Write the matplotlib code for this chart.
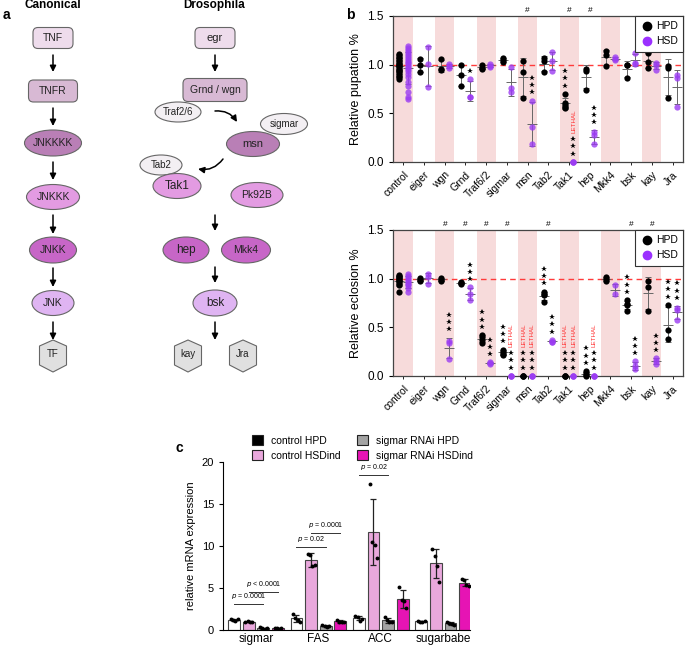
import numpy as np
import matplotlib.pyplot as plt
from matplotlib.patches import Ellipse, FancyBboxPatch, Polygon, Patch
from matplotlib.lines import Line2D

plt.rcParams['font.family'] = ['Liberation Sans', 'DejaVu Sans']

# ---------------- data: panel b ----------------
genes = ['control', 'eiger', 'wgn', 'Grnd', 'Traf6/2', 'sigmar', 'msn',
         'Tab2', 'Tak1', 'hep', 'Mkk4', 'bsk', 'kay', 'Jra']

pup_hpd = [[1.11, 1.10, 1.08, 1.07, 1.05, 1.04, 1.02, 1.01, 1.00, 0.99, 0.98,
            0.96, 0.95, 0.93, 0.92, 0.90, 0.88, 0.87, 0.85],
           [1.06, 1.00, 0.92], [1.06, 0.96, 0.95], [1.00, 0.89, 0.78],
           [1.00, 0.97, 0.96], [1.07, 1.05, 1.03], [1.04, 0.92, 0.66],
           [1.07, 1.04, 0.92], [0.70, 0.61, 0.59, 0.57, 0.55], [0.96, 0.93, 0.74],
           [1.14, 1.10, 0.99], [1.00, 1.00, 0.86], [1.12, 1.03, 0.97],
           [0.99, 0.97, 0.66]]
pup_hsd = [[1.19, 1.17, 1.15, 1.13, 1.11, 1.09, 1.07, 1.05, 1.03, 1.02, 1.00,
            0.98, 0.96, 0.93, 0.90, 0.87, 0.82, 0.78, 0.72, 0.67, 0.65],
           [1.18, 1.01, 0.77], [1.01, 0.99, 0.97], [0.85, 0.67, 0.67],
           [1.01, 0.99, 0.98], [0.98, 0.76, 0.72], [0.63, 0.36, 0.18],
           [1.13, 1.04, 0.94], [0.0, 0.0, 0.0], [0.31, 0.28, 0.18],
           [1.08, 1.06, 1.05], [1.12, 1.02, 1.01], [1.02, 1.00, 0.95],
           [0.89, 0.86, 0.57]]
pup_stars_hpd = [0, 0, 0, 0, 0, 0, 0, 0, 3, 0, 0, 0, 0, 0]
pup_stars_hsd = [0, 0, 0, 1, 0, 0, 3, 0, 3, 3, 0, 0, 0, 0]
pup_lethal_hpd = []
pup_lethal_hsd = ['Tak1']
pup_hash = ['msn', 'Tak1', 'hep']

ecl_hpd = [[1.04, 1.03, 1.02, 1.01, 1.00, 0.99, 0.98, 0.97, 0.95, 0.93, 0.86],
           [1.01, 0.99, 0.98], [1.01, 0.99, 0.98], [0.97, 0.96, 0.95],
           [0.42, 0.40, 0.37, 0.34], [0.27, 0.25, 0.23, 0.22], [0.0, 0.0, 0.0],
           [0.86, 0.84, 0.83, 0.76], [0.0, 0.0, 0.0], [0.05, 0.03, 0.01, 0.0],
           [1.02, 1.00, 0.98], [0.78, 0.74, 0.73, 0.67], [0.98, 0.91, 0.67],
           [0.73, 0.47, 0.38]]
ecl_hsd = [[1.05, 1.03, 1.01, 0.99, 0.97, 0.95, 0.93, 0.90, 0.86],
           [1.05, 1.02, 0.95], [0.36, 0.34, 0.17], [0.91, 0.84, 0.78],
           [0.14, 0.13, 0.12], [0.0, 0.0, 0.0], [0.0, 0.0, 0.0],
           [0.37, 0.35, 0.35], [0.0, 0.0, 0.0], [0.0, 0.0, 0.0],
           [0.93, 0.84], [0.15, 0.10, 0.07], [0.18, 0.15, 0.12],
           [0.70, 0.68, 0.58]]
ecl_stars_hpd = [0, 0, 0, 0, 3, 3, 3, 3, 3, 3, 0, 3, 0, 3]
ecl_stars_hsd = [0, 0, 3, 3, 3, 3, 3, 3, 3, 3, 0, 3, 3, 3]
ecl_lethal_hpd = ['msn', 'Tak1']
ecl_lethal_hsd = ['sigmar', 'msn', 'Tak1', 'hep']
ecl_hash = ['wgn', 'Grnd', 'Traf6/2', 'sigmar', 'Tab2', 'bsk', 'kay']

# ---------------- data: panel c ----------------
c_genes = ['sigmar', 'FAS', 'ACC', 'sugarbabe']
c_names = ['control HPD', 'control HSDind', 'sigmar RNAi HPD', 'sigmar RNAi HSDind']
c_ctrl_hpd = [[1.3, 1.2, 1.1, 1.35], [1.9, 1.4, 1.2, 1.0], [1.7, 1.5, 1.1, 1.3], [1.1, 1.0, 0.95, 1.05]]
c_ctrl_hsd = [[1.0, 1.05, 0.95, 1.0], [9.1, 8.9, 7.6, 7.7], [17.4, 10.5, 10.1, 8.6], [9.6, 8.8, 7.6, 5.7]]
c_rnai_hpd = [[0.3, 0.2, 0.15, 0.25], [0.6, 0.5, 0.4, 0.45], [1.6, 1.2, 1.0, 0.9], [1.0, 0.8, 0.7, 0.6]]
c_rnai_hsd = [[0.2, 0.25, 0.15, 0.2], [1.2, 1.0, 0.9, 0.95], [5.1, 3.6, 3.5, 2.6], [6.1, 6.0, 5.3, 5.2]]
c_pvals = [(0, 0, 2, 3.1, '= 0.0001'), (0, 1, 3, 4.5, '< 0.0001'),
           (1, 0, 2, 9.9, '= 0.02'), (1, 1, 3, 11.5, '= 0.0001'),
           (2, 0, 2, 18.4, '= 0.02')]

HPD_C = 'black'
HSD_C = '#9b3cf2'

W, H = 685, 647
fig = plt.figure(figsize=(W / 100, H / 100), dpi=100)


def px_axes(x0, y0, x1, y1):
    return fig.add_axes([x0 / W, 1 - y1 / H, (x1 - x0) / W, (y1 - y0) / H])


# ---------------- panel a (pathway diagram) ----------------
axa = px_axes(0, 0, 330, 400)
axa.set_xlim(0, 330)
axa.set_ylim(400, 0)
axa.axis('off')


def box(cx, cy, w, h, label, fc, fs=7.5):
    axa.add_patch(FancyBboxPatch((cx - w / 2, cy - h / 2), w, h,
                                 boxstyle='round,pad=0,rounding_size=5',
                                 fc=fc, ec='#666666', lw=0.8))
    axa.text(cx, cy, label, ha='center', va='center', fontsize=fs, color='#222222')


def oval(cx, cy, w, h, label, fc, fs=7.5):
    axa.add_patch(Ellipse((cx, cy), w, h, fc=fc, ec='#666666', lw=0.8))
    axa.text(cx, cy, label, ha='center', va='center', fontsize=fs, color='#222222')


def hexa(cx, cy, label):
    pts = [(cx, cy - 16), (cx + 13.5, cy - 10), (cx + 13.5, cy + 9),
           (cx, cy + 16), (cx - 13.5, cy + 9), (cx - 13.5, cy - 10)]
    axa.add_patch(Polygon(pts, closed=True, fc='#e0e0e0', ec='#666666', lw=0.8))
    axa.text(cx, cy - 2, label, ha='center', va='center', fontsize=7, color='#222222')


def arrow(x, y0, y1, rad=0.0, x1=None):
    axa.annotate('', xy=(x if x1 is None else x1, y1), xytext=(x, y0),
                 arrowprops=dict(arrowstyle='-|>', color='black', lw=1.1,
                                 mutation_scale=9, shrinkA=0, shrinkB=0,
                                 connectionstyle='arc3,rad=%s' % rad))


c_light = '#eedcec'
c_rec = '#d8b9d4'
c_k4 = '#b97fb6'
c_k3 = '#e39be2'
c_k2 = '#c766c7'
c_jnk = '#dfb4f2'
c_adp = '#f3eff3'

axa.text(53, 5, 'Canonical', ha='center', va='center', fontsize=8.5, fontweight='bold')
axa.text(214, 5, 'Drosophila', ha='center', va='center', fontsize=8.5, fontweight='bold')

cx = 53
box(cx, 38, 40, 21, 'TNF', c_light)
arrow(cx, 55, 72)
box(cx, 91, 49, 22, 'TNFR', c_rec)
arrow(cx, 108, 126)
oval(cx, 143, 57, 26, 'JNKKKK', c_k4)
arrow(cx, 162, 180)
oval(cx, 197, 53, 25, 'JNKKK', c_k3)
arrow(cx, 215, 234)
oval(cx, 250, 47, 26, 'JNKK', c_k2)
arrow(cx, 268, 287)
oval(cx, 303, 42, 25, 'JNK', c_jnk)
arrow(cx, 322, 340)
hexa(cx, 356, 'TF')

dx = 215
box(dx, 38, 40, 21, 'egr', c_light, fs=8)
arrow(dx, 55, 72)
box(dx, 90, 64, 23, 'Grnd / wgn', c_rec)
oval(178, 112, 46, 20, 'Traf2/6', c_adp, fs=7)
arrow(215, 111, 122, rad=-0.3, x1=237)
oval(284, 124, 47, 21, 'sigmar', c_adp, fs=7)
oval(253, 144, 53, 25, 'msn', c_k4, fs=8)
arrow(223, 159, 169, rad=-0.3, x1=198)
oval(161, 165, 42, 20, 'Tab2', c_adp, fs=7)
oval(177, 186, 48, 25, 'Tak1', c_k3, fs=8.5)
oval(257, 195, 52, 25, 'Pk92B', c_k3)
arrow(dx, 215, 231)
oval(186, 250, 46, 26, 'hep', c_k2, fs=8.5)
oval(246, 250, 49, 26, 'Mkk4', c_k2)
arrow(dx, 267, 283)
oval(dx, 303, 44, 26, 'bsk', c_jnk, fs=8.5)
arrow(dx, 322, 340)
hexa(188, 356, 'kay')
hexa(243, 356, 'Jra')


# ---------------- panel b ----------------
def star_stack(ax, x, base, n):
    ys = base + 0.085 + 0.075 * np.arange(n)
    ax.plot([x] * n, ys, ls='none', marker='*', ms=4.2, color='black', mew=0)
    return ys[-1] if n else base


def draw_b(ax, hpd, hsd, st_hpd, st_hsd, let_hpd, let_hsd, hashes, ylabel):
    n = len(genes)
    for i in range(0, n, 2):
        ax.axvspan(i - 0.46, i + 0.46, color='#f7dbdb', lw=0, zorder=0)
    ax.axhline(1.0, color='#ff3b3b', ls=(0, (4, 3)), lw=1, zorder=1)
    for i, g in enumerate(genes):
        for vals, off, col, nst, lethal in [
                (hpd[i], -0.2, HPD_C, st_hpd[i], g in let_hpd),
                (hsd[i], 0.2, HSD_C, st_hsd[i], g in let_hsd)]:
            x = i + off
            v = np.array(vals)
            m, sd = v.mean(), v.std(ddof=1)
            top = v.max()
            if v.max() > 0:
                ax.errorbar(x, m, yerr=sd, fmt='_', ms=7, mew=0.7, capsize=2,
                            elinewidth=0.7, capthick=0.7, color='#666666', zorder=2)
                top = max(top, m + sd)
            alpha = 1.0 if col == HPD_C else 0.8
            ax.plot([x] * len(v), v, 'o', ms=4.5, color=col, alpha=alpha,
                    mew=0, zorder=3, clip_on=False)
            last = star_stack(ax, x, top, nst)
            if lethal:
                ax.text(x + 0.02, last + 0.06, 'LETHAL', rotation=90, ha='center',
                        va='bottom', fontsize=4.5, color='#ff3030')
        if g in hashes:
            ax.text(i, 1.52, '#', ha='center', va='bottom', fontsize=6)
    ax.set_xlim(-0.5, n - 0.5)
    ax.set_ylim(0, 1.5)
    ax.set_yticks([0, 0.5, 1.0, 1.5])
    ax.set_yticklabels(['0.0', '0.5', '1.0', '1.5'], fontsize=8.5)
    ax.set_xticks(range(n))
    ax.set_xticklabels(genes, rotation=45, ha='right', rotation_mode='anchor', fontsize=7.5)
    ax.tick_params(axis='x', length=2, width=0.6)
    ax.tick_params(axis='y', length=3, width=0.8)
    ax.set_ylabel(ylabel, fontsize=9)
    for sp in ax.spines.values():
        sp.set_color('#444444')
        sp.set_linewidth(0.9)
    handles = [Line2D([], [], ls='none', marker='o', ms=6, color=HPD_C),
               Line2D([], [], ls='none', marker='o', ms=6, color='#9b30ff')]
    leg = ax.legend(handles, ['HPD', 'HSD'], loc='upper right', fontsize=7.5,
                    borderaxespad=0, fancybox=False, framealpha=1,
                    handletextpad=0.3, handlelength=1.2, borderpad=0.5)
    leg.get_frame().set_edgecolor('#333333')
    leg.get_frame().set_linewidth(0.8)


axp = px_axes(393, 16, 683, 162)
draw_b(axp, pup_hpd, pup_hsd, pup_stars_hpd, pup_stars_hsd, pup_lethal_hpd,
       pup_lethal_hsd, pup_hash, 'Relative pupation %')
axe = px_axes(393, 230, 683, 376)
draw_b(axe, ecl_hpd, ecl_hsd, ecl_stars_hpd, ecl_stars_hsd, ecl_lethal_hpd,
       ecl_lethal_hsd, ecl_hash, 'Relative eclosion %')

# ---------------- panel c ----------------
axc = px_axes(223, 462, 470, 630)
series = [c_ctrl_hpd, c_ctrl_hsd, c_rnai_hpd, c_rnai_hsd]
fills = ['white', '#e9a8dc', '#a3a3a3', '#e614b4']
slot = 0.235
jit = np.array([-0.055, -0.018, 0.018, 0.055])
for k, (vals, fc) in enumerate(zip(series, fills)):
    xs = np.arange(len(c_genes)) + (k - 1.5) * slot
    means = [np.mean(v) for v in vals]
    sds = [np.std(v, ddof=1) for v in vals]
    axc.bar(xs, means, width=0.19, color=fc, edgecolor='#444444', lw=0.8, zorder=2)
    axc.errorbar(xs, means, yerr=sds, fmt='none', ecolor='#222222', elinewidth=0.9,
                 capsize=2.5, capthick=0.9, zorder=3)
    for x, v in zip(xs, vals):
        axc.plot(x + jit[:len(v)], v, 'o', ms=2.8, color='black', mew=0, zorder=4)
for gi, a, b, y, txt in c_pvals:
    x0 = gi + (a - 1.5) * slot
    x1 = gi + (b - 1.5) * slot
    axc.plot([x0, x1], [y, y], color='#333333', lw=0.7)
    axc.text((x0 + x1) / 2, y + 0.35, '$p$ ' + txt, ha='center', va='bottom', fontsize=5)
axc.set_xlim(-0.53, 3.43)
axc.set_ylim(0, 20)
axc.set_yticks([0, 5, 10, 15, 20])
axc.tick_params(axis='y', labelsize=8, length=3)
axc.set_xticks(range(len(c_genes)))
axc.set_xticklabels(c_genes, fontsize=8.5)
axc.tick_params(axis='x', length=0, pad=2)
axc.set_ylabel('relative mRNA expression', fontsize=8)
axc.spines['top'].set_visible(False)
axc.spines['right'].set_visible(False)

leg_fc = ['black', '#e9a8dc', '#a3a3a3', '#e614b4']
handles = [Patch(fc=c, ec='#222222', lw=0.8) for c in leg_fc]
fig.legend(handles, c_names, ncol=2, loc='upper left', bbox_to_anchor=(243 / W, 1 - 426 / H),
           frameon=False, fontsize=7.5, handlelength=1.0, handleheight=1.0,
           columnspacing=1.6, handletextpad=0.8, labelspacing=0.45)

# panel letters
fig.text(3 / W, 1 - 15 / H, 'a', fontsize=10, fontweight='bold', va='center')
fig.text(346 / W, 1 - 15 / H, 'b', fontsize=10, fontweight='bold', va='center')
fig.text(176 / W, 1 - 448 / H, 'c', fontsize=10, fontweight='bold', va='center')

fig.savefig('out.png', dpi=100)
